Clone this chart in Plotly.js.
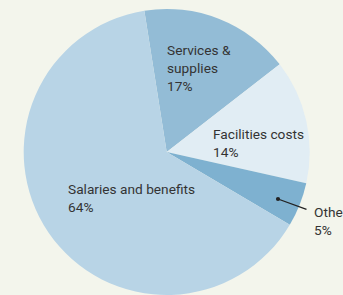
<!DOCTYPE html>
<html>
<head>
<meta charset="utf-8">
<script src="https://cdn.plot.ly/plotly-3.0.1.min.js"></script>
<style>html,body{margin:0;padding:0;background:#f3f5ec;}#chart{width:343px;height:295px;}</style>
</head>
<body>
<div id="chart"></div>
<script>
var categories = ["Services & supplies", "Facilities costs", "Other", "Salaries and benefits"];
var shares = [17, 14, 5, 64];
var labelTexts = ["Services &<br>supplies<br>17%", "Facilities costs<br>14%", "Other<br>5%", "Salaries and benefits<br>64%"];
var sliceColors = ["#93bcd6", "#e1edf4", "#7eb1d0", "#b8d4e6"];

var W = 343, H = 295;
function px(x){ return x / W; }
function py(y){ return 1 - y / H; }

var trace = {
  type: "pie",
  labels: categories,
  values: shares,
  sort: false,
  direction: "clockwise",
  rotation: -9,
  textinfo: "none",
  hoverinfo: "label+percent",
  marker: {colors: sliceColors, line: {width: 0}},
  domain: {x: [px(166.7 - 143), px(166.7 + 143)], y: [0, py(9)]},
  showlegend: false
};

var font = {family: "Roboto, 'Liberation Sans', sans-serif", size: 13.7, color: "#333333"};
var labelPos = [[165, 40.5], [211, 124], [312, 202.5], [66, 178.5]];
var annotations = labelTexts.map(function(t, i){
  return {text: t, xref: "paper", yref: "paper", x: px(labelPos[i][0]), y: py(labelPos[i][1]),
          xanchor: "left", yanchor: "top", align: "left", showarrow: false, font: font};
});
annotations.push({text: "", xref: "paper", yref: "paper", x: px(278), y: py(199),
  showarrow: true, ax: 30, ay: 11, arrowhead: 6, arrowsize: 0.8, arrowwidth: 1.3,
  arrowcolor: "#222", standoff: 0, startstandoff: 0});

var layout = {
  width: W, height: H,
  margin: {l: 0, r: 0, t: 0, b: 0},
  paper_bgcolor: "#f3f5ec",
  plot_bgcolor: "#f3f5ec",
  annotations: annotations,
  font: font
};

Plotly.newPlot("chart", [trace], layout, {displayModeBar: false, staticPlot: true});
</script>
</body>
</html>
